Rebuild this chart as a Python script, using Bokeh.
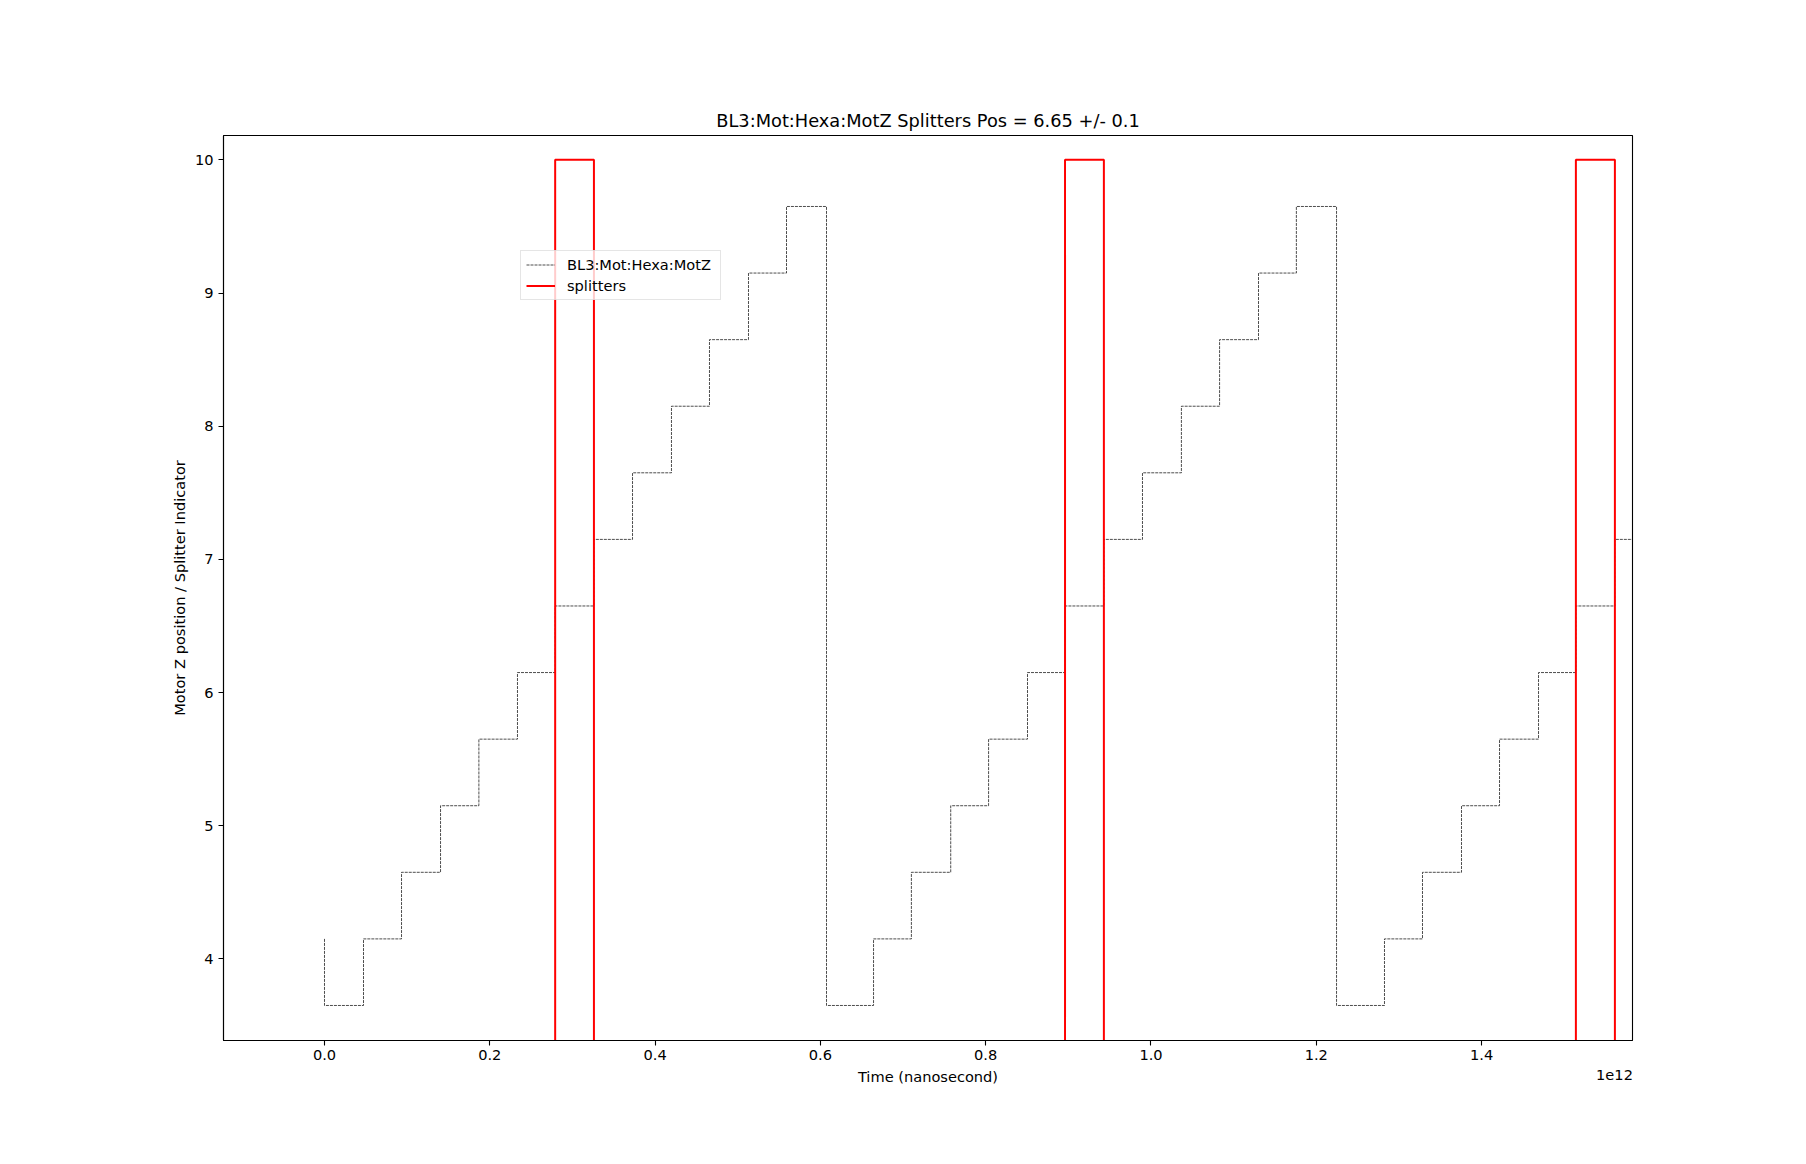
from bokeh.plotting import figure
from bokeh.models import Range1d, FixedTicker, PrintfTickFormatter, LinearAxis
from bokeh.embed import file_html
from bokeh.resources import INLINE

# ---- data (time in units of 1e12 ns) ----
motor_t = [0.0, 0.0, 0.0472, 0.0932, 0.1404, 0.1868, 0.2335, 0.2791, 0.3260,
           0.3727, 0.4198, 0.4658, 0.5130, 0.5590, 0.6074, 0.6643, 0.7101,
           0.7577, 0.8035, 0.8506, 0.8960, 0.9430, 0.9897, 1.0368, 1.0830,
           1.1301, 1.1759, 1.2245, 1.2825, 1.3285, 1.3757, 1.4217, 1.4689,
           1.5141, 1.5613, 1.6080]
motor_z = [4.15, 3.65, 4.15, 4.65, 5.15, 5.65, 6.15, 6.65, 7.15,
           7.65, 8.15, 8.65, 9.15, 9.65, 3.65, 4.15, 4.65,
           5.15, 5.65, 6.15, 6.65, 7.15, 7.65, 8.15, 8.65,
           9.15, 9.65, 3.65, 4.15, 4.65, 5.15, 5.65, 6.15,
           6.65, 7.15, 7.65]
split_t = [0.0, 0.2791, 0.3260, 0.8960, 0.9430, 1.5141, 1.5613]
split_v = [0, 10, 0, 10, 0, 10, 0]

x_ticks = [0.0, 0.2, 0.4, 0.6, 0.8, 1.0, 1.2, 1.4]
y_ticks = [4, 5, 6, 7, 8, 9, 10]
x_lim = (-0.1222, 1.5826)
y_lim = (3.387, 10.183)

title = "BL3:Mot:Hexa:MotZ Splitters Pos = 6.65 +/- 0.1"
x_label = "Time (nanosecond)"
y_label = "Motor Z position / Splitter Indicator"
offset_text = "1e12"
FONT = "DejaVu Sans"
FS = "14.6px"

FRAME_W, FRAME_H = 1409, 905
p = figure(width=223 + FRAME_W + 166, height=135 + FRAME_H + 116,
           output_backend="svg", toolbar_location=None,
           x_range=Range1d(*x_lim), y_range=Range1d(*y_lim),
           min_border_left=223, min_border_right=166,
           min_border_top=135, min_border_bottom=116,
           title=title)

p.title.text_font = FONT
p.title.text_font_size = "17.8px"
p.title.text_font_style = "normal"
p.title.align = "center"
p.title.text_color = "black"

p.grid.visible = False
p.outline_line_color = "black"
p.outline_line_width = 1.1
p.background_fill_color = "white"
p.border_fill_color = "white"

for ax in (p.xaxis[0], p.yaxis[0]):
    ax.axis_line_color = "black"
    ax.axis_line_width = 1.1
    ax.major_tick_line_color = "black"
    ax.major_tick_line_width = 1.1
    ax.major_tick_out = 5
    ax.major_tick_in = 0
    ax.minor_tick_out = 0
    ax.minor_tick_in = 0
    ax.major_label_text_font = FONT
    ax.major_label_text_font_size = FS
    ax.major_label_text_color = "black"
    ax.axis_label_text_font = FONT
    ax.axis_label_text_font_size = FS
    ax.axis_label_text_font_style = "normal"
    ax.axis_label_text_color = "black"

p.xaxis.ticker = FixedTicker(ticks=x_ticks)
p.xaxis.formatter = PrintfTickFormatter(format="%.1f")
p.yaxis.ticker = FixedTicker(ticks=y_ticks)
p.yaxis.formatter = PrintfTickFormatter(format="%d")
p.xaxis.axis_label = x_label
p.yaxis.axis_label = y_label
p.xaxis.major_label_standoff = 4
p.yaxis.major_label_standoff = 5
p.xaxis.axis_label_standoff = 5
p.yaxis.axis_label_standoff = 4

# offset text "1e12" under the right end of the x axis
px_per_unit = FRAME_W / (x_lim[1] - x_lim[0])
off_pos = x_lim[1] - 18 / px_per_unit
off_axis = LinearAxis(ticker=FixedTicker(ticks=[off_pos]),
                      major_label_overrides={off_pos: offset_text})
off_axis.axis_line_color = None
off_axis.major_tick_line_color = None
off_axis.minor_tick_line_color = None
off_axis.major_tick_out = 0
off_axis.major_tick_in = 0
off_axis.major_label_text_font = FONT
off_axis.major_label_text_font_size = FS
off_axis.major_label_text_color = "black"
off_axis.major_label_standoff = -18
p.add_layout(off_axis, "below")

p.step(motor_t, motor_z, mode="after", line_color="black", line_width=0.7,
       line_dash="3 1", legend_label="BL3:Mot:Hexa:MotZ")
p.step(split_t, split_v, mode="after", line_color="#ff0000", line_width=2,
       legend_label="splitters")

lg = p.legend[0]
lg.location = (297, 740)
lg.label_text_font = FONT
lg.label_text_font_size = FS
lg.label_text_color = "black"
lg.glyph_width = 29
lg.glyph_height = 17
lg.label_height = 17
lg.spacing = 4
lg.padding = 5
lg.margin = 0
lg.label_standoff = 12
lg.label_width = 148
lg.border_line_color = "#cccccc"
lg.border_line_width = 1
lg.background_fill_alpha = 0.8

open("out.html", "w").write(file_html(p, INLINE))
